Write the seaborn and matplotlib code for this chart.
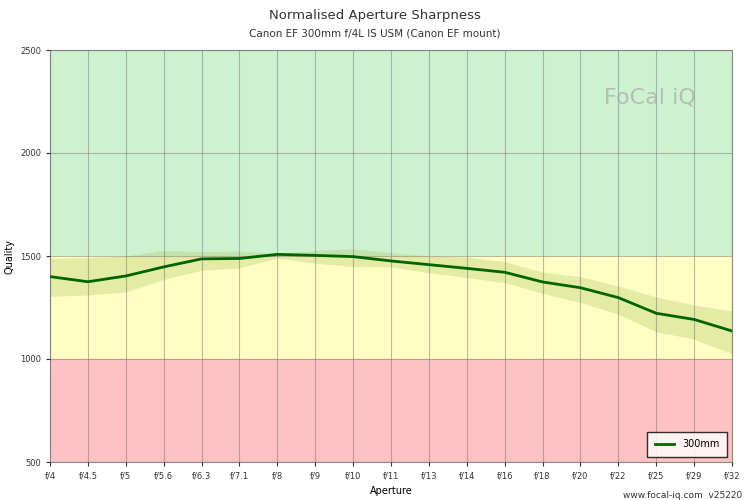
import matplotlib
matplotlib.use("Agg")
import matplotlib.pyplot as plt
import seaborn as sns
import pandas as pd
import numpy as np

apertures = ["f/4","f/4.5","f/5","f/5.6","f/6.3","f/7.1","f/8","f/9","f/10","f/11","f/13","f/14","f/16","f/18","f/20","f/22","f/25","f/29","f/32"]
quality = [1400,1375,1403,1447,1486,1488,1508,1503,1497,1476,1458,1440,1421,1374,1346,1298,1222,1192,1136]
upper = [1489,1492,1500,1527,1521,1524,1511,1527,1535,1516,1500,1495,1473,1422,1400,1354,1301,1262,1233]
lower = [1305,1310,1326,1386,1431,1442,1490,1465,1449,1447,1419,1395,1371,1319,1274,1217,1133,1096,1025]

df = pd.DataFrame({"x": np.arange(len(apertures)), "Quality": quality})

fig = plt.figure(figsize=(7.5, 5), dpi=100)
ax = fig.add_axes([50/750, 38/500, 682/750, 412/500])
ax.axhspan(1500, 2500, color="#cef2d0", zorder=0)
ax.axhspan(1000, 1500, color="#ffffc4", zorder=0)
ax.axhspan(500, 1000, color="#ffc2c2", zorder=0)
ax.fill_between(df["x"], lower, upper, color="#a8c060", alpha=0.3, lw=0, zorder=1)
sns.lineplot(data=df, x="x", y="Quality", ax=ax, color="#006400", lw=2, label="300mm", zorder=3)
ax.set_xlim(0, len(apertures)-1)
ax.set_ylim(500, 2500)
ax.set_xticks(df["x"])
ax.set_xticklabels(apertures)
ax.set_yticks([500, 1000, 1500, 2000, 2500])
ax.tick_params(labelsize=6, colors="#333333", length=3)
ax.grid(True, color="#777777", alpha=0.5, lw=0.8)
ax.set_axisbelow(False)
for s in ax.spines.values():
    s.set_color("#888888")
ax.set_xlabel("Aperture", fontsize=7)
ax.set_ylabel("Quality", fontsize=7)
leg = ax.legend(loc="lower right", fontsize=7, frameon=True, fancybox=False, edgecolor="#000000", borderpad=0.8)
leg.get_frame().set_facecolor("white")
fig.text(0.5, 1-16/500, "Normalised Aperture Sharpness", ha="center", va="center", fontsize=9.5, color="#333333")
fig.text(0.5, 1-33/500, "Canon EF 300mm f/4L IS USM (Canon EF mount)", ha="center", va="center", fontsize=7.5, color="#333333")
fig.text(0.99, 0.005, "www.focal-iq.com  v25220", ha="right", fontsize=6.5, color="#333333")
ax.text(0.88, 0.87, "FoCal iQ", transform=ax.transAxes, fontsize=16, color="#aaaaaa", alpha=0.7, ha="center")
fig.savefig("out.png", dpi=100)
